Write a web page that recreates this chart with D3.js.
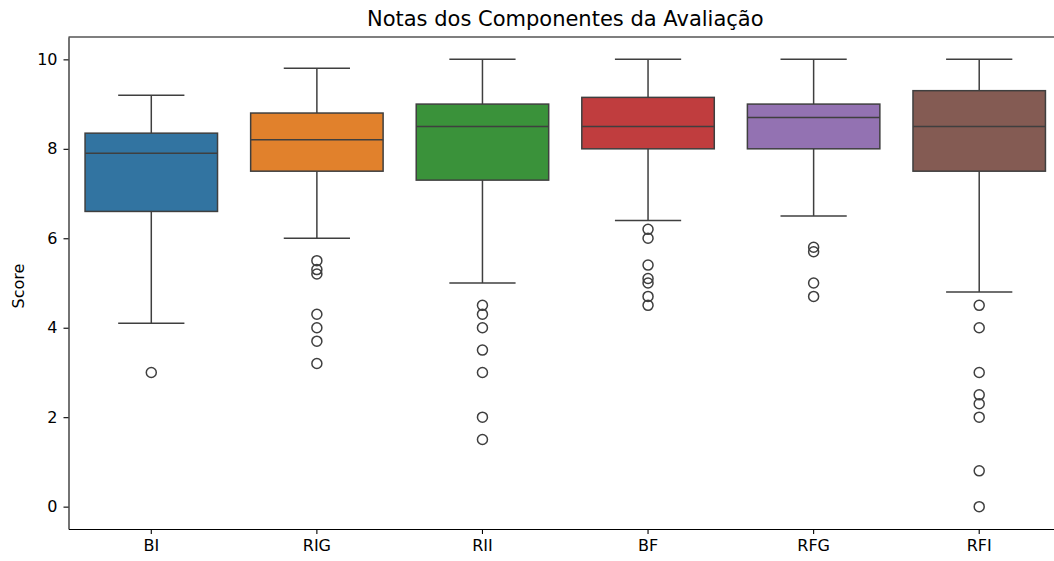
<!DOCTYPE html>
<html>
<head>
<meta charset="utf-8">
<script src="https://cdn.jsdelivr.net/npm/d3@7"></script>
<style>
	body { margin: 0; background: #fff; }
	text { font-family: "DejaVu Sans", sans-serif; fill: #000; }
	.axis path, .axis line { stroke: #000; stroke-width: 1.1px; }
	.axis text { font-size: 16px; }
</style>
</head>
<body>
<svg id="chart" width="1054" height="561"></svg>
<script>
// componentes avaliados
var categories = ["BI", "RIG", "RII", "BF", "RFG", "RFI"];
var colors = ["#3274a1", "#e1812c", "#3a923a", "#c03d3e", "#9372b2", "#845b53"];

// estatisticas das caixas
var whiskerLow  = [4.1, 6.0, 5.0, 6.4, 6.5, 4.8];
var q1          = [6.6, 7.5, 7.3, 8.0, 8.0, 7.5];
var median      = [7.9, 8.2, 8.5, 8.5, 8.7, 8.5];
var q3          = [8.35, 8.8, 9.0, 9.15, 9.0, 9.3];
var whiskerHigh = [9.2, 9.8, 10.0, 10.0, 10.0, 10.0];

var outliers = [
	[3.0],
	[5.5, 5.3, 5.2, 4.3, 4.0, 3.7, 3.2],
	[4.5, 4.3, 4.0, 3.5, 3.0, 2.0, 1.5],
	[6.2, 6.0, 5.4, 5.1, 5.0, 4.7, 4.5],
	[5.8, 5.7, 5.0, 4.7],
	[4.5, 4.0, 3.0, 2.5, 2.3, 2.0, 0.8, 0.0]
];

var yTicks = [0, 2, 4, 6, 8, 10];

var margin = {top: 37, left: 68.5, right: -8, bottom: 32};
var width = 1054 - margin.left - margin.right;
var height = 561 - margin.top - margin.bottom;
var lineColor = "#3f3f3f";

var svg = d3.select("#chart");
var g = svg.append("g")
	.attr("transform", "translate(" + margin.left + "," + margin.top + ")");

var xScale = d3.scaleBand()
	.domain(categories)
	.range([0, width])
	.padding(0);

var yScale = d3.scaleLinear()
	.domain([-0.5, 10.5])
	.range([height, 0]);

var bw = xScale.bandwidth();
var boxW = bw * 0.8;
var capW = bw * 0.4;

var data = categories.map(function(c, i){
	return {
		name: c, color: colors[i],
		lo: whiskerLow[i], q1: q1[i], med: median[i], q3: q3[i], hi: whiskerHigh[i],
		out: outliers[i]
	};
});

var boxes = g.selectAll(".box")
	.data(data)
	.enter().append("g")
	.attr("class", "box")
	.attr("transform", function(d){ return "translate(" + (xScale(d.name) + bw / 2) + ",0)"; });

// whiskers
boxes.append("line")
	.attr("x1", 0).attr("x2", 0)
	.attr("y1", function(d){ return yScale(d.hi); })
	.attr("y2", function(d){ return yScale(d.q3); })
	.attr("stroke", lineColor).attr("stroke-width", 1.5);
boxes.append("line")
	.attr("x1", 0).attr("x2", 0)
	.attr("y1", function(d){ return yScale(d.q1); })
	.attr("y2", function(d){ return yScale(d.lo); })
	.attr("stroke", lineColor).attr("stroke-width", 1.5);

// caps
["hi", "lo"].forEach(function(k){
	boxes.append("line")
		.attr("x1", -capW / 2).attr("x2", capW / 2)
		.attr("y1", function(d){ return yScale(d[k]); })
		.attr("y2", function(d){ return yScale(d[k]); })
		.attr("stroke", lineColor).attr("stroke-width", 1.5);
});

// box
boxes.append("rect")
	.attr("x", -boxW / 2)
	.attr("width", boxW)
	.attr("y", function(d){ return yScale(d.q3); })
	.attr("height", function(d){ return yScale(d.q1) - yScale(d.q3); })
	.attr("fill", function(d){ return d.color; })
	.attr("stroke", lineColor).attr("stroke-width", 1.5);

// median
boxes.append("line")
	.attr("x1", -boxW / 2).attr("x2", boxW / 2)
	.attr("y1", function(d){ return yScale(d.med); })
	.attr("y2", function(d){ return yScale(d.med); })
	.attr("stroke", lineColor).attr("stroke-width", 1.5);

// outliers
boxes.selectAll(".flier")
	.data(function(d){ return d.out; })
	.enter().append("circle")
	.attr("class", "flier")
	.attr("cx", 0)
	.attr("cy", function(v){ return yScale(v); })
	.attr("r", 5)
	.attr("fill", "none")
	.attr("stroke", lineColor).attr("stroke-width", 1.5);

// axes
var xAxis = d3.axisBottom(xScale).tickSize(5).tickPadding(6).tickSizeOuter(0);
var yAxis = d3.axisLeft(yScale).tickValues(yTicks).tickSize(5).tickPadding(6).tickSizeOuter(0);

g.append("g")
	.attr("class", "axis x-axis")
	.attr("transform", "translate(0," + height + ")")
	.call(xAxis);

g.append("g")
	.attr("class", "axis y-axis")
	.call(yAxis);

// top spine
g.append("line")
	.attr("x1", 0).attr("x2", width)
	.attr("y1", 0).attr("y2", 0)
	.attr("stroke", "#000").attr("stroke-width", 1.1);

// title and label
svg.append("text")
	.attr("x", margin.left + width / 2)
	.attr("y", 26)
	.attr("text-anchor", "middle")
	.attr("font-size", 21)
	.text("Notas dos Componentes da Avaliação");

svg.append("text")
	.attr("transform", "translate(24," + (margin.top + height / 2 + 3) + ") rotate(-90)")
	.attr("text-anchor", "middle")
	.attr("font-size", 16)
	.text("Score");
</script>
</body>
</html>
